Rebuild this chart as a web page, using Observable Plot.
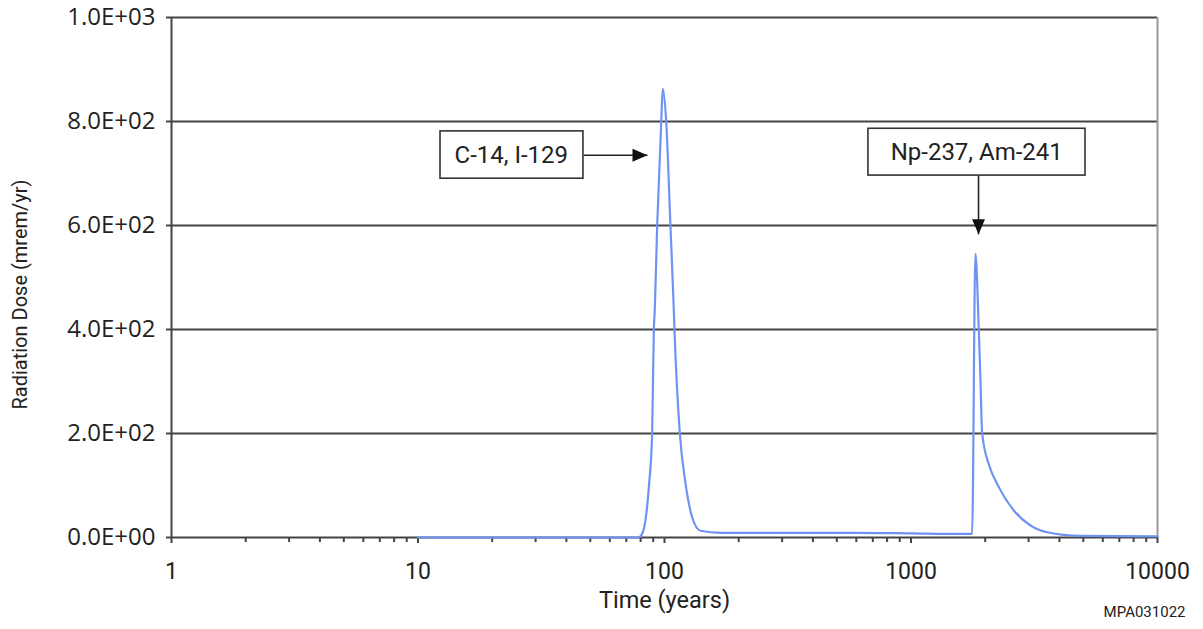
<!DOCTYPE html>
<html>
<head>
<meta charset="utf-8">
<script src="https://cdn.jsdelivr.net/npm/d3@7"></script>
<script src="https://cdn.jsdelivr.net/npm/@observablehq/plot@0.6"></script>
<style>
  body { margin: 0; background: #fff; }
</style>
</head>
<body>
<div id="chart"></div>
<script>
// ---- data ----
const years = [10, 78.4, 80.7, 83.7, 86.5, 89.1, 90.5, 91.3, 93.4, 97.0, 98.4, 101.6, 105.7, 109.1, 109.8, 115.4, 121.7, 129.5, 140, 168.7, 300, 600, 1000, 1500, 1770, 1825, 1884, 1914, 1944, 2088, 2237, 2613, 3054, 3572, 4875, 10000];
const dose  = [0,  0,    5,    33,   100,  200,  398,  437,  600,  800,  863,  800,   600,   437,   398,   200,   104,   39,    13,  9,     9,   9,   8,    7,    7,    546,  398,  300,  200,  135,  103,  52,   23,   10,   3,    2];

const yTicks = [0, 200, 400, 600, 800, 1000];
const xMajorTicks = [1, 10, 100, 1000, 10000];
const xMinorTicks = [2, 3, 4, 5, 6, 7, 8, 9, 20, 30, 40, 50, 60, 70, 80, 90, 200, 300, 400, 500, 600, 700, 800, 900, 2000, 3000, 4000, 5000, 6000, 7000, 8000, 9000];

// annotations: label, box corners and arrow (data coordinates)
const noteText = ["C-14, I-129", "Np-237, Am-241"];
const noteX = [23.9, 1848];
const noteY = [735, 741];
const noteX1 = [12.34, 672];
const noteX2 = [46.9, 5105];
const noteY1 = [690, 696];
const noteY2 = [781, 786];
const arrowFromX = [46.9, 1879];
const arrowFromY = [735, 696];
const arrowToX = [85.3, 1879];
const arrowToY = [735, 583];
const arrowRotate = [0, 90];

const series = years.map((t, i) => ({t, d: dose[i]}));
const notes = noteText.map((s, i) => ({
  s, x: noteX[i], y: noteY[i], x1: noteX1[i], x2: noteX2[i], y1: noteY1[i], y2: noteY2[i],
  ax1: arrowFromX[i], ay1: arrowFromY[i], ax2: arrowToX[i], ay2: arrowToY[i], rot: arrowRotate[i]
}));

const fmtE = d => {
  const [m, e] = d.toExponential(1).split("e");
  return m + "E" + e[0] + e.slice(1).padStart(2, "0");
};

// arrow head symbol with its tip at the origin, pointing right
const arrowHead = {
  draw(ctx, size) {
    const s = Math.sqrt(size / Math.PI);
    ctx.moveTo(0, 0);
    ctx.lineTo(-15 * s, -6.5 * s);
    ctx.lineTo(-15 * s, 6.5 * s);
    ctx.closePath();
  }
};

const chart = Plot.plot({
  width: 1203,
  height: 629,
  marginLeft: 171,
  marginRight: 46,
  marginTop: 17,
  marginBottom: 92,
  style: {fontFamily: "Roboto, sans-serif", color: "#222", background: "#fff"},
  x: {type: "log", domain: [1, 10000], axis: null},
  y: {domain: [0, 1000], axis: null},
  marks: [
    Plot.ruleY(yTicks.filter(d => d > 0), {stroke: "#444", strokeWidth: 2}),
    Plot.ruleX([10000], {stroke: "#999", strokeWidth: 2}),
    Plot.ruleX([1], {stroke: "#444", strokeWidth: 2}),
    Plot.ruleY([0], {stroke: "#444", strokeWidth: 2}),
    Plot.axisY({ticks: yTicks, tickSize: 5, tickPadding: 11, tickFormat: fmtE, label: null,
      fontSize: 24, fontFamily: "Open Sans", strokeWidth: 2, stroke: "#444", fill: "#222"}),
    Plot.axisX({ticks: xMajorTicks, tickSize: 6, tickPadding: 19, tickFormat: d => String(d), label: null,
      fontSize: 23, strokeWidth: 2, stroke: "#444", fill: "#222"}),
    Plot.axisX({ticks: xMinorTicks, tickSize: 5, tickFormat: () => "", label: null,
      strokeWidth: 2, stroke: "#444"}),
    Plot.line(series, {x: "t", y: "d", stroke: "#6f93f4", strokeWidth: 2.2, curve: "monotone-x"}),
    Plot.link(notes, {x1: "ax1", y1: "ay1", x2: "ax2", y2: "ay2", stroke: "#222", strokeWidth: 1.6}),
    Plot.dot(notes, {x: "ax2", y: "ay2", symbol: arrowHead, r: 1, rotate: "rot", fill: "#111", stroke: "none"}),
    Plot.rect(notes, {x1: "x1", x2: "x2", y1: "y1", y2: "y2", fill: "#fff", stroke: "#333", strokeWidth: 1.6}),
    Plot.text(notes, {x: "x", y: "y", text: "s", fontSize: 24, fill: "#222"}),
    Plot.text(["Radiation Dose (mrem/yr)"], {frameAnchor: "left", textAnchor: "middle", rotate: -90, dx: -151, dy: 17, fontSize: 20, fill: "#222"}),
    Plot.text(["Time (years)"], {frameAnchor: "bottom", textAnchor: "middle", dy: 70, fontSize: 23.5, fill: "#222"}),
    Plot.text(["MPA031022"], {frameAnchor: "bottom-right", textAnchor: "end", dx: 28, dy: 79, fontSize: 15, fill: "#222"})
  ]
});
document.getElementById("chart").appendChild(chart);
</script>
</body>
</html>
